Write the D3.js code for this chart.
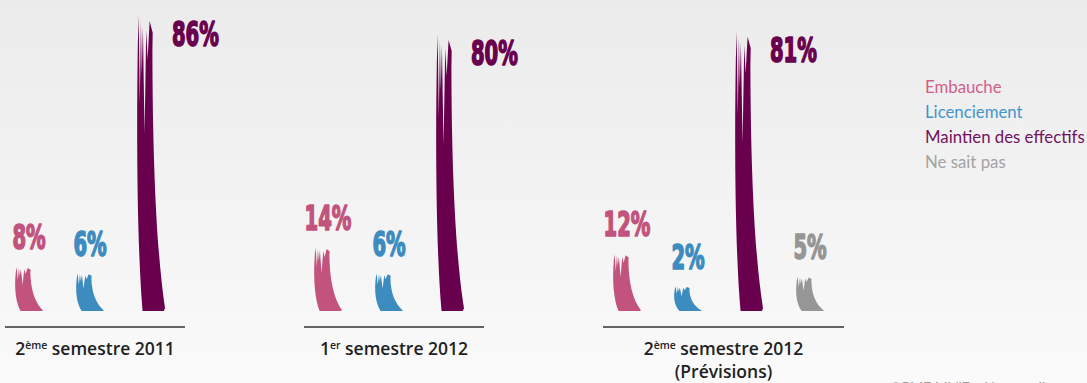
<!DOCTYPE html>
<html lang="fr">
<head>
<meta charset="utf-8">
<script src="https://cdn.jsdelivr.net/npm/d3@7/dist/d3.min.js"></script>
<style>
  html, body { margin: 0; padding: 0; }
  body { width: 1087px; height: 383px; overflow: hidden; }
  svg { display: block; }
</style>
</head>
<body>
<svg id="chart" width="1087" height="383"></svg>
<script>
// Intentions d'emploi par semestre (% des répondants)
const categories = ["2011-S2", "2012-S1", "2012-S2"];
const categoryLabels = [
  { num: "2", sup: "ème", rest: " semestre 2011", sub: null },
  { num: "1", sup: "er", rest: " semestre 2012", sub: null },
  { num: "2", sup: "ème", rest: " semestre 2012", sub: "(Prévisions)" }
];
const seriesNames = ["Embauche", "Licenciement", "Maintien des effectifs", "Ne sait pas"];
const embauche = [8, 14, 12];
const licenciement = [6, 6, 2];
const maintien = [86, 80, 81];
const neSaitPas = [null, null, 5];

const seriesColors = ["#c1537d", "#3d8cc0", "#69004e", "#969696"];
const legendColors = ["#d0608a", "#3f95cd", "#74115d", "#a3a3a3"];

const svg = d3.select("#chart");
const W = 1087, H = 383;

// background wash
const defs = svg.append("defs");
const grad = defs.append("linearGradient").attr("id", "bg").attr("x1", 0).attr("y1", 0).attr("x2", 0).attr("y2", 1);
grad.append("stop").attr("offset", "0%").attr("stop-color", "#ebebeb");
grad.append("stop").attr("offset", "100%").attr("stop-color", "#fafafa");
svg.append("rect").attr("width", W).attr("height", H).attr("fill", "url(#bg)");

const seriesValues = [embauche, licenciement, maintien, neSaitPas];
const data = categories.map((c, i) => ({
  cat: c,
  values: seriesNames.map((s, k) => ({ series: s, k, value: seriesValues[k][i] }))
    .filter(d => d.value !== null)
}));

const baseline = 311;
const xGroup = d3.scaleBand().domain(categories).range([15, 15 + 299 * 3]);
const xSeries = d3.scaleBand().domain(seriesNames).range([0, 211]).paddingInner(0.541);
const y = d3.scaleLinear().domain([0, 86]).range([293, 15]);

// brush-stroke bar: fractional outline (u across width, v down from top)
function brushPath(x0, w, yTop, yBot) {
  const h = yBot - yTop;
  const P = (u, v) => [x0 + u * w, yTop + v * h];
  const p = d3.path();
  p.moveTo(...P(0.2, 1.0));
  let c1 = P(0.02, 0.8), c2 = P(-0.03, 0.45), e = P(0.03, 0.1);
  p.bezierCurveTo(c1[0], c1[1], c2[0], c2[1], e[0], e[1]);
  [[0.06, 0.0], [0.10, 0.3], [0.14, 0.02], [0.17, 0.2], [0.21, 0.04], [0.27, 0.4],
   [0.33, 0.05], [0.38, 0.15], [0.45, 0.02], [0.56, 0.06], [0.55, 0.12]]
    .forEach(([u, v]) => p.lineTo(...P(u, v)));
  c1 = P(0.56, 0.5); c2 = P(0.7, 0.8); e = P(1.0, 0.99);
  p.bezierCurveTo(c1[0], c1[1], c2[0], c2[1], e[0], e[1]);
  p.lineTo(...P(0.96, 1.0));
  p.closePath();
  return p.toString();
}

const groups = svg.selectAll("g.group").data(data).join("g")
  .attr("class", "group")
  .attr("transform", d => `translate(${xGroup(d.cat)},0)`);

groups.selectAll("path.bar").data(d => d.values).join("path")
  .attr("class", "bar")
  .attr("fill", d => seriesColors[d.k])
  .attr("d", d => brushPath(xSeries(d.series), xSeries.bandwidth(), y(d.value), baseline));

// value labels (condensed heavy type)
groups.selectAll("text.val").data(d => d.values).join("text")
  .attr("class", "val")
  .attr("font-family", "'DejaVu Sans Condensed', 'DejaVu Sans', sans-serif")
  .attr("font-weight", "bold")
  .attr("font-size", 34)
  .attr("fill", d => seriesColors[d.k])
  .attr("stroke", d => seriesColors[d.k])
  .attr("stroke-width", 1.6)
  .attr("stroke-linejoin", "round")
  .attr("text-anchor", d => d.k === 2 ? "start" : "middle")
  .attr("transform", d => {
    const bx = xSeries(d.series), bw = xSeries.bandwidth();
    const tx = d.k === 2 ? bx + bw + 7 : bx + bw / 2;
    const ty = d.k === 2 ? y(d.value) + 31 : y(d.value) - 18;
    return `translate(${tx},${ty}) scale(0.64,1)`;
  })
  .text(d => d.value + "%");

// baseline rule under each group
groups.append("line")
  .attr("x1", -10)
  .attr("x2", d => xSeries(d.values[d.values.length - 1].series) + xSeries.bandwidth() + 20)
  .attr("y1", 327).attr("y2", 327)
  .attr("stroke", "#333").attr("stroke-width", 1.3);

// category labels
groups.each(function(d, i) {
  const g = d3.select(this);
  const last = d.values[d.values.length - 1];
  const cx = (-10 + xSeries(last.series) + xSeries.bandwidth() + 20) / 2;
  const lab = categoryLabels[i];
  const t = g.append("text")
    .attr("x", cx).attr("y", 355)
    .attr("text-anchor", "middle")
    .attr("font-family", "'Open Sans', Lato, sans-serif")
    .attr("font-weight", 600)
    .attr("font-size", 17.5)
    .attr("fill", "#222");
  t.append("tspan").text(lab.num);
  t.append("tspan").attr("font-size", 10.5).attr("dy", -6.5).text(lab.sup);
  t.append("tspan").attr("dy", 6.5).text(lab.rest);
  if (lab.sub) {
    g.append("text")
      .attr("x", cx).attr("y", 378)
      .attr("text-anchor", "middle")
      .attr("font-family", "'Open Sans', Lato, sans-serif")
      .attr("font-weight", 600)
      .attr("font-size", 17.5)
      .attr("fill", "#222")
      .text(lab.sub);
  }
});

// legend
svg.append("g").selectAll("text").data(seriesNames).join("text")
  .attr("x", 925)
  .attr("y", (d, i) => 93 + i * 25)
  .attr("font-family", "Lato, 'Open Sans', sans-serif")
  .attr("font-size", 16.8)
  .attr("fill", (d, i) => legendColors[i])
  .text(d => d);

// source credit
svg.append("text")
  .attr("x", 890).attr("y", 392)
  .attr("font-family", "Lato, sans-serif")
  .attr("font-size", 14)
  .attr("fill", "#9a9a9a")
  .text("©PME Mid'Est Normandie");
</script>
</body>
</html>
